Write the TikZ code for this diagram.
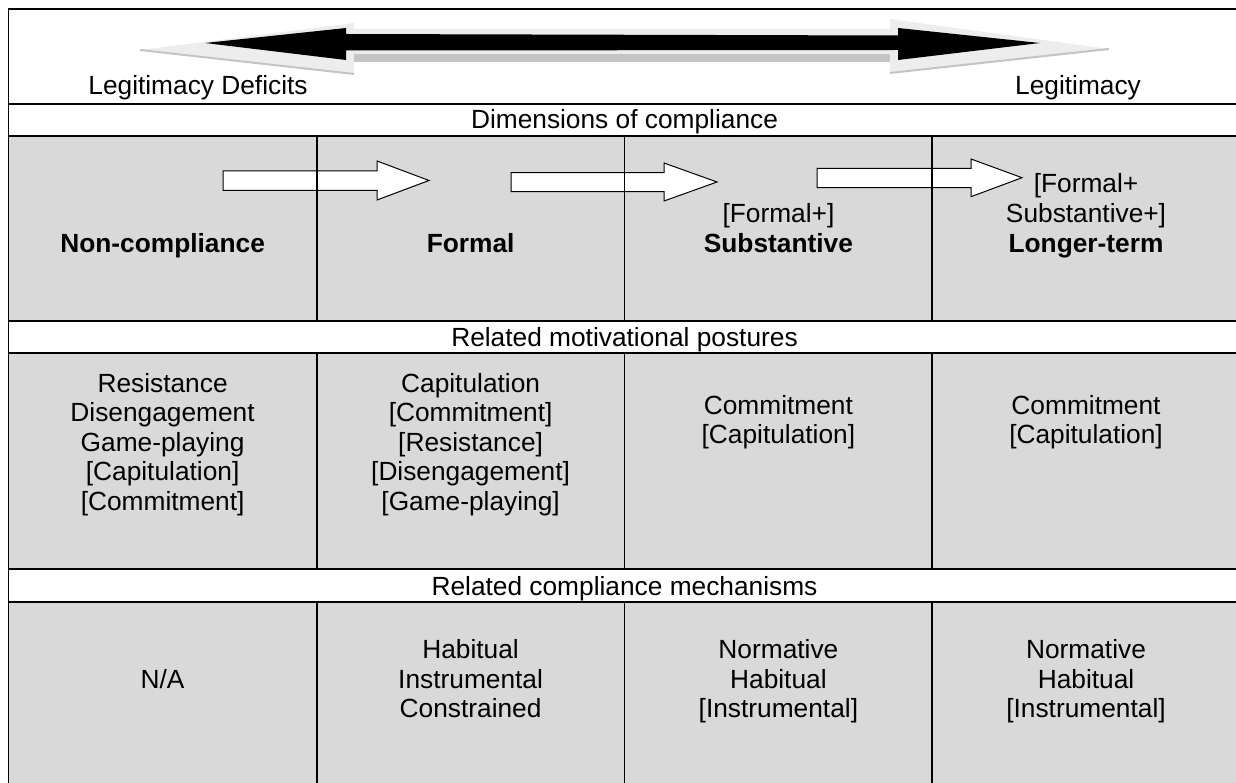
\documentclass[tikz,border=0pt]{standalone}
\usepackage{fontspec}
\setmainfont{Liberation Sans}
\definecolor{cellgray}{HTML}{D9D9D9}
\definecolor{bevellight}{HTML}{EDEDED}
\definecolor{beveldark}{HTML}{C4C4C4}
\begin{document}
\begin{tikzpicture}[x=1pt,y=-1pt,
  rule/.style={line width=1.8pt,black},
  band/.style={fill=cellgray},
  txt/.style={anchor=base,inner sep=0pt,font=\fontsize{26.3}{30}\selectfont},
  bold/.style={txt,font=\fontsize{26.3}{30}\selectfont\bfseries},
  blockarrow/.style={fill=white,draw=black,line width=1pt,line join=miter}]
\useasboundingbox (0,0) rectangle (1236,783);

% shaded bands of the table
\fill[band] (8.5,135.7) rectangle (1240,320.7);
\fill[band] (8.5,353) rectangle (1240,569.3);
\fill[band] (8.5,602) rectangle (1240,795);

% double-headed arrow: bevel behind, black arrow in front
\fill[bevellight] (140,50) -- (354,23) -- (354,29) -- (890,29) -- (890,19)
  -- (1109,49) -- (890,73) -- (890,62) -- (354,62) -- (354,74) -- cycle;
\fill[beveldark] (354,54) rectangle (890,62);
\draw[beveldark,line width=2pt] (140,50) -- (354,74);
\draw[beveldark,line width=2pt] (1109,49) -- (890,73);
\fill[black] (205,43) -- (346,28) -- (346,34) -- (898,35.5) -- (898,28)
  -- (1040,43) -- (898,60) -- (898,50) -- (346,50.5) -- (346,60) -- cycle;

% progression arrows between the compliance dimensions
\draw[blockarrow] (223,171) -- (377,171) -- (377,161) -- (429,180.5)
  -- (377,200) -- (377,190.5) -- (223,190.5) -- cycle;
\draw[blockarrow] (511,172.7) -- (664,172.7) -- (664,163) -- (717,182)
  -- (664,201) -- (664,191.7) -- (511,191.7) -- cycle;
\draw[blockarrow] (817,168.3) -- (971,168.3) -- (971,159) -- (1022,177.7)
  -- (971,196.7) -- (971,187.7) -- (817,187.7) -- cycle;

% table rules
\foreach \yy in {9,104,135.7,320.7,353,569.3,602}
  \draw[rule] (7.6,\yy) -- (1241,\yy);
\draw[rule] (8.5,8.1) -- (8.5,795);
\draw[rule] (1240,8.1) -- (1240,795);
\foreach \xx in {316.7,624.5,932.3}{
  \draw[rule] (\xx,135.7) -- (\xx,320.7);
  \draw[rule] (\xx,353) -- (\xx,569.3);
  \draw[rule] (\xx,602) -- (\xx,795);
}

% top scale labels
\node[txt] (deficit) at (198,95) {Legitimacy Deficits};
\node[txt] (legit) at (1078,95) {Legitimacy};

% section headings
\node[txt] (hdim) at (624.5,129) {Dimensions of compliance};
\node[txt] (hpos) at (624.5,346) {Related motivational postures};
\node[txt] (hmech) at (624.5,595) {Related compliance mechanisms};

% dimensions of compliance
\node[bold] (dnon) at (162.6,252.5) {Non-compliance};
\node[bold] (dformal) at (470.6,252.5) {Formal};
\node[txt] (dsubA) at (778.4,222.5) {[Formal+]};
\node[bold] (dsubB) at (778.4,252.5) {Substantive};
\node[txt] (dlongA) at (1086,193) {[Formal+};
\node[txt] (dlongB) at (1086,222.5) {Substantive+]};
\node[bold] (dlongC) at (1086,252.5) {Longer-term};

% motivational postures
\node[txt] (p1a) at (162.6,392) {Resistance};
\node[txt] (p1b) at (162.6,421.5) {Disengagement};
\node[txt] (p1c) at (162.6,451) {Game-playing};
\node[txt] (p1d) at (162.6,480.5) {[Capitulation]};
\node[txt] (p1e) at (162.6,510) {[Commitment]};
\node[txt] (p2a) at (470.6,392) {Capitulation};
\node[txt] (p2b) at (470.6,421.5) {[Commitment]};
\node[txt] (p2c) at (470.6,451) {[Resistance]};
\node[txt] (p2d) at (470.6,480.5) {[Disengagement]};
\node[txt] (p2e) at (470.6,510) {[Game-playing]};
\node[txt] (p3a) at (778.4,414) {Commitment};
\node[txt] (p3b) at (778.4,443.5) {[Capitulation]};
\node[txt] (p4a) at (1086,414) {Commitment};
\node[txt] (p4b) at (1086,443.5) {[Capitulation]};

% compliance mechanisms
\node[txt] (m1) at (162.6,688) {N/A};
\node[txt] (m2a) at (470.6,658.5) {Habitual};
\node[txt] (m2b) at (470.6,688) {Instrumental};
\node[txt] (m2c) at (470.6,717.5) {Constrained};
\node[txt] (m3a) at (778.4,658.5) {Normative};
\node[txt] (m3b) at (778.4,688) {Habitual};
\node[txt] (m3c) at (778.4,717.5) {[Instrumental]};
\node[txt] (m4a) at (1086,658.5) {Normative};
\node[txt] (m4b) at (1086,688) {Habitual};
\node[txt] (m4c) at (1086,717.5) {[Instrumental]};
\end{tikzpicture}
\end{document}
